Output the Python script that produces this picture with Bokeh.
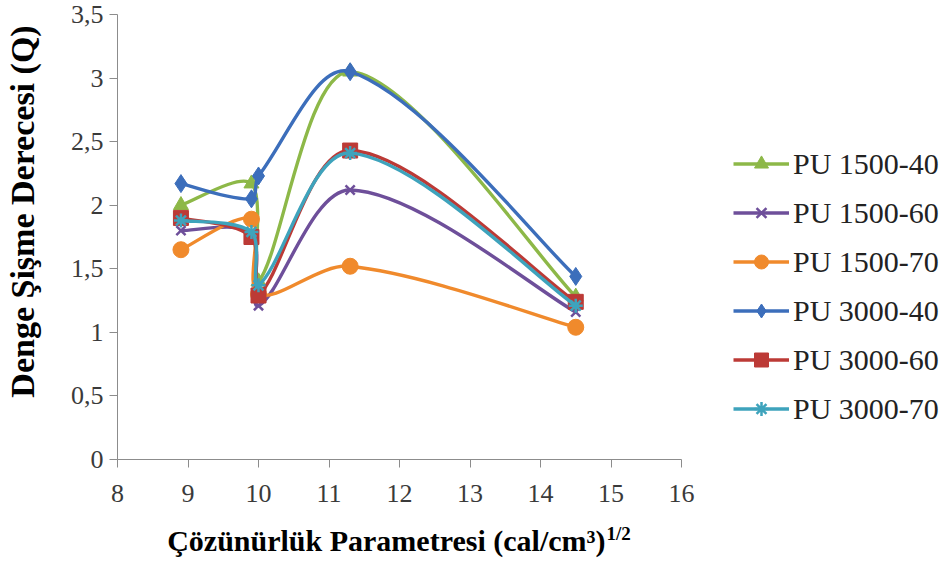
import math
import numpy as np
from bokeh.plotting import figure
from bokeh.models import (Range1d, FixedTicker, CustomJSTickFormatter, Legend, LegendItem,
                          ColumnDataSource, Label)
from bokeh.embed import file_html
from bokeh.resources import INLINE

# ---- data ----
x_vals = [8.9, 9.9, 10.0, 11.3, 14.5]
series_names = ["PU 1500-40", "PU 1500-60", "PU 1500-70", "PU 3000-40", "PU 3000-60", "PU 3000-70"]
pu1500_40 = [2.00, 2.17, 1.40, 3.05, 1.28]
pu1500_60 = [1.80, 1.78, 1.21, 2.12, 1.16]
pu1500_70 = [1.65, 1.89, 1.30, 1.52, 1.04]
pu3000_40 = [2.17, 2.05, 2.23, 3.05, 1.44]
pu3000_60 = [1.90, 1.75, 1.29, 2.43, 1.24]
pu3000_70 = [1.88, 1.79, 1.37, 2.41, 1.21]
y_ticks = [0, 0.5, 1, 1.5, 2, 2.5, 3, 3.5]
x_ticks = [8, 9, 10, 11, 12, 13, 14, 15, 16]
x_title = "Çözünürlük Parametresi (cal/cm³)"
x_title_sup = "1/2"
y_title = "Denge Şişme Derecesi (Q)"

series_values = [pu1500_40, pu1500_60, pu1500_70, pu3000_40, pu3000_60, pu3000_70]
colors = ["#8DB848", "#6E4F9A", "#F08A2C", "#3C6EBB", "#BC3A36", "#3EA3BC"]
markers = ["triangle", "x", "circle", "diamond", "square", "asterisk"]
msizes = [15, 13, 16, 18, 15, 14]

FONT = "'Liberation Serif', 'Times New Roman', Tinos, serif"

# plot area (in pixels of the 947x563 page): x 8..16 -> 117..681, y 0..3.5 -> 459..14
W, H = 947, 563
PX_L, PX_R, PY_T, PY_B = 117, 681, 14, 459
sx = (PX_R - PX_L) / 8.0
sy = (PY_B - PY_T) / 3.5
xr = Range1d(8 - PX_L / sx, 16 + (W - PX_R) / sx)
yr = Range1d(0 - (H - PY_B) / sy, 3.5 + PY_T / sy)

p = figure(width=W, height=H, output_backend="svg", toolbar_location=None,
           x_range=xr, y_range=yr,
           min_border_left=0, min_border_right=0, min_border_top=0, min_border_bottom=0)
p.outline_line_color = None
p.xgrid.visible = False
p.ygrid.visible = False
p.background_fill_color = "white"

p.xaxis.fixed_location = 0
p.yaxis.fixed_location = 8
p.xaxis.bounds = (8, 16)
p.yaxis.bounds = (0, 3.5)

for ax in (p.xaxis[0], p.yaxis[0]):
    ax.axis_line_color = "#8C8C8C"
    ax.axis_line_width = 1
    ax.major_tick_line_color = "#8C8C8C"
    ax.major_tick_out = 8
    ax.major_tick_in = 0
    ax.minor_tick_line_color = None
    ax.major_label_text_font = FONT
    ax.major_label_text_font_size = "26px"
    ax.major_label_text_color = "#3A3A3A"

p.xaxis.ticker = FixedTicker(ticks=x_ticks)
p.yaxis.ticker = FixedTicker(ticks=y_ticks)
p.yaxis.formatter = CustomJSTickFormatter(code="return tick.toString().replace('.', ',');")
p.xaxis.major_label_standoff = 17
p.yaxis.major_label_standoff = 6

# axis titles (screen units relative to the frame = whole page, y from bottom)
p.add_layout(Label(x=22, y=H - 211, x_units="screen", y_units="screen", text=y_title,
                   angle=math.pi / 2, text_font=FONT, text_font_style="bold",
                   text_font_size="34px", text_align="center", text_baseline="middle",
                   text_color="black"))
p.add_layout(Label(x=605, y=H - 540, x_units="screen", y_units="screen", text=x_title,
                   text_font=FONT, text_font_style="bold", text_font_size="30px",
                   text_align="right", text_baseline="middle", text_color="black"))
p.add_layout(Label(x=606, y=H - 533, x_units="screen", y_units="screen", text=x_title_sup,
                   text_font=FONT, text_font_style="bold", text_font_size="19px",
                   text_align="left", text_baseline="middle", text_color="black"))

# smoothed curve control points (chord-weighted Catmull-Rom, like Excel's smoothed lines)


def bezier_source(xs, ys):
    P = np.column_stack([np.array(xs) * sx, np.array(ys) * sy])
    n = len(P)
    d = [np.linalg.norm(P[i + 1] - P[i]) for i in range(n - 1)]
    rows = dict(x0=[], y0=[], x1=[], y1=[], cx0=[], cy0=[], cx1=[], cy1=[])
    for i in range(n - 1):
        pm = P[i - 1] if i > 0 else P[i]
        pp = P[i + 2] if i + 2 < n else P[i + 1]
        dprev = d[i - 1] if i > 0 else d[i]
        dnext = d[i + 1] if i + 2 < n else d[i]
        t1 = (P[i + 1] - pm) * (d[i] / (dprev + d[i])) / 3.0
        t2 = (pp - P[i]) * (d[i] / (d[i] + dnext)) / 3.0
        c0 = P[i] + t1
        c1 = P[i + 1] - t2
        rows["x0"].append(P[i][0] / sx); rows["y0"].append(P[i][1] / sy)
        rows["x1"].append(P[i + 1][0] / sx); rows["y1"].append(P[i + 1][1] / sy)
        rows["cx0"].append(c0[0] / sx); rows["cy0"].append(c0[1] / sy)
        rows["cx1"].append(c1[0] / sx); rows["cy1"].append(c1[1] / sy)
    return ColumnDataSource(rows)


items = []
for name, ys, col, mk, ms in zip(series_names, series_values, colors, markers, msizes):
    src = bezier_source(x_vals, ys)
    b = p.bezier(x0="x0", y0="y0", x1="x1", y1="y1", cx0="cx0", cy0="cy0", cx1="cx1", cy1="cy1",
                 source=src, line_color=col, line_width=3.4)
    lw = 2.5 if mk in ("x", "asterisk") else 1
    s = p.scatter(x_vals, ys, marker=mk, size=ms, fill_color=col, line_color=col, line_width=lw)
    items.append(LegendItem(label=name, renderers=[b, s]))

legend = Legend(items=items, location=(733, 137), orientation="vertical",
                label_text_font=FONT, label_text_font_size="30px", label_text_color="#222222",
                glyph_width=56, glyph_height=35, label_height=35, label_standoff=4,
                spacing=14, padding=0, margin=0,
                border_line_color=None, background_fill_alpha=0)
p.add_layout(legend, "center")

open("out.html", "w").write(file_html(p, INLINE))
